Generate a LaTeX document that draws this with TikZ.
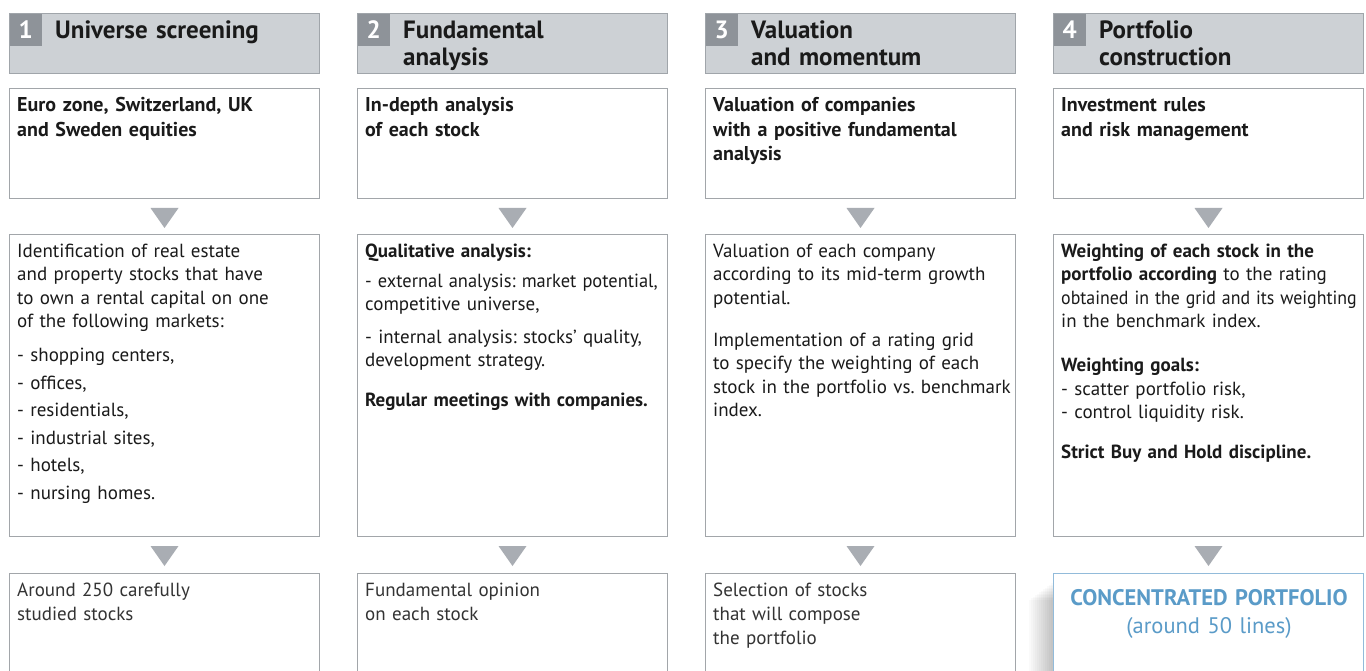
\documentclass[tikz,border=0pt]{standalone}
\usepackage{fontspec}
\setmainfont{PT Sans}
\frenchspacing
\usetikzlibrary{calc}
\definecolor{hdrfill}{HTML}{CDD1D5}
\definecolor{hdrline}{HTML}{A0A5AA}
\definecolor{numfill}{HTML}{8E9399}
\definecolor{boxline}{HTML}{A2A6AA}
\definecolor{trifill}{HTML}{A9ADB3}
\definecolor{txt}{HTML}{1A1A1A}
\definecolor{txtc}{HTML}{333333}
\definecolor{blueline}{HTML}{92BBDA}
\definecolor{bluetxt}{HTML}{5A9BC8}
\tikzset{
 hdr/.style={draw=hdrline, fill=hdrfill, line width=1pt, minimum width=310pt, minimum height=60pt, anchor=north west, inner sep=0pt},
 numbox/.style={fill=numfill, minimum width=32pt, minimum height=32pt, anchor=north west, inner sep=0pt, text=white, font=\fontsize{25}{27}\selectfont\bfseries},
 hdrtxt/.style={anchor=north west, inner sep=0pt, text width=255pt, align=left, font=\fontsize{25}{26.5}\selectfont\bfseries, text=txt},
 box/.style={draw=boxline, line width=1pt, fill=white, minimum width=310pt, anchor=north west, inner sep=0pt},
 fbox/.style={draw=blueline, line width=1pt, fill=white, minimum width=310pt, anchor=north west, inner sep=0pt},
 bodyA/.style={anchor=north west, inner sep=0pt, text width=302pt, align=left, font=\fontsize{20}{24.5}\selectfont\bfseries, text=txt},
 body/.style={anchor=north west, inner sep=0pt, text width=302pt, align=left, font=\fontsize{19}{23.5}\selectfont, text=txt},
 bodyC/.style={anchor=north west, inner sep=0pt, text width=302pt, align=left, font=\fontsize{19}{24}\selectfont, text=txtc},
 finaltxt/.style={anchor=north, inner sep=0pt, text width=302pt, align=center, font=\fontsize{22.5}{28}\selectfont, text=bluetxt},
 tri/.style={fill=trifill},
}
\begin{document}
\begin{tikzpicture}[x=1pt,y=-1pt]
\useasboundingbox (0,0) rectangle (1366,671);
\clip (0,0) rectangle (1366,671);
\fill[white] (0,0) rectangle (1366,671);
% soft shadow of final box
\foreach \i in {0,...,11}{
  \fill[black, opacity=0.02] ({1051-2*\i},{583+1.5*\i}) rectangle (1053,700);
}

% ---------- headers ----------
\node[hdr] (h1) at (9,13) {};
\node[hdr] (h2) at (357,13) {};
\node[hdr] (h3) at (705,13) {};
\node[hdr] (h4) at (1053,13) {};
\node[numbox] (n1) at (9.5,13.5) {1};
\node[numbox] (n2) at (357.5,13.5) {2};
\node[numbox] (n3) at (705.5,13.5) {3};
\node[numbox] (n4) at (1053.5,13.5) {4};
\node[hdrtxt] (t1) at (55,20) {\strut Universe screening};
\node[hdrtxt] (t2) at (403,20) {\strut Fundamental\\analysis};
\node[hdrtxt] (t3) at (751,20) {\strut Valuation\\and momentum};
\node[hdrtxt] (t4) at (1099,20) {\strut Portfolio\\construction};

% ---------- first boxes ----------
\node[box, minimum height=110pt] (a1) at (9,88) {};
\node[box, minimum height=110pt] (a2) at (357,88) {};
\node[box, minimum height=110pt] (a3) at (705,88) {};
\node[box, minimum height=110pt] (a4) at (1053,88) {};
\node[bodyA] (ta1) at (17,94.3) {\strut Euro zone, Switzerland, UK\\and Sweden equities};
\node[bodyA] (ta2) at (365,94.3) {\strut In-depth analysis\\of each stock};
\node[bodyA] (ta3) at (713,94.3) {\strut Valuation of companies\\with a positive fundamental\\analysis};
\node[bodyA] (ta4) at (1061,94.3) {\strut Investment rules\\and risk management};

% ---------- second boxes ----------
\node[box, minimum height=302pt] (b1) at (9,234) {};
\node[box, minimum height=302pt] (b2) at (357,234) {};
\node[box, minimum height=302pt] (b3) at (705,234) {};
\node[box, minimum height=302pt] (b4) at (1053,234) {};
\node[body] (tb1) at (17,240.5) {\strut Identification of real estate\\and property stocks that have\\to own a rental capital on one\\of the following markets:\\[10.5pt]- shopping centers,\\[4pt]- offices,\\[4pt]- residentials,\\[4pt]- industrial sites,\\[4pt]- hotels,\\[4pt]- nursing homes.};
\node[body] (tb2) at (365,240.5) {\strut\textbf{Qualitative analysis:}\\[6.5pt]\scalebox{0.97}[1]{- external analysis: market potential,}\\competitive universe,\\[9pt]- internal analysis: stocks' quality,\\development strategy.\\[16pt]\textbf{Regular meetings with companies.}};
\node[body] (tb3) at (713,240.5) {\strut Valuation of each company\\according to its mid-term growth\\potential.\\[18.5pt]Implementation of a rating grid\\to specify the weighting of each\\\mbox{stock in the portfolio vs. benchmark}\\index.};
\node[body] (tb4) at (1061,240.5) {\strut\textbf{Weighting of each stock in the}\\\textbf{portfolio according} to the rating\\\scalebox{0.94}[1]{obtained in the grid and its weighting}\\in the benchmark index.\\[20.5pt]\textbf{Weighting goals:}\\- scatter portfolio risk,\\- control liquidity risk.\\[16.5pt]\textbf{Strict Buy and Hold discipline.}};

% ---------- third boxes ----------
\node[box, minimum height=130pt] (c1) at (9,573) {};
\node[box, minimum height=130pt] (c2) at (357,573) {};
\node[box, minimum height=130pt] (c3) at (705,573) {};
\node[fbox, minimum height=130pt] (c4) at (1053,573) {};
\node[bodyC] (tc1) at (17,579.2) {\strut Around 250 carefully\\studied stocks};
\node[bodyC] (tc2) at (365,579.2) {\strut Fundamental opinion\\on each stock};
\node[bodyC] (tc3) at (713,579.2) {\strut Selection of stocks\\that will compose\\the portfolio};
\node[finaltxt] (tc4) at (1209,585.4) {\strut\textbf{CONCENTRATED PORTFOLIO}\\(around 50 lines)};

% ---------- triangles ----------
\foreach \u/\v in {a1/b1,a2/b2,a3/b3,a4/b4,b1/c1,b2/c2,b3/c3,b4/c4}{
  \fill[tri] ($(\u.south)+(-14,9)$) -- ($(\u.south)+(14,9)$) -- ($(\u.south)+(0,29)$) -- cycle;
}
\end{tikzpicture}
\end{document}
